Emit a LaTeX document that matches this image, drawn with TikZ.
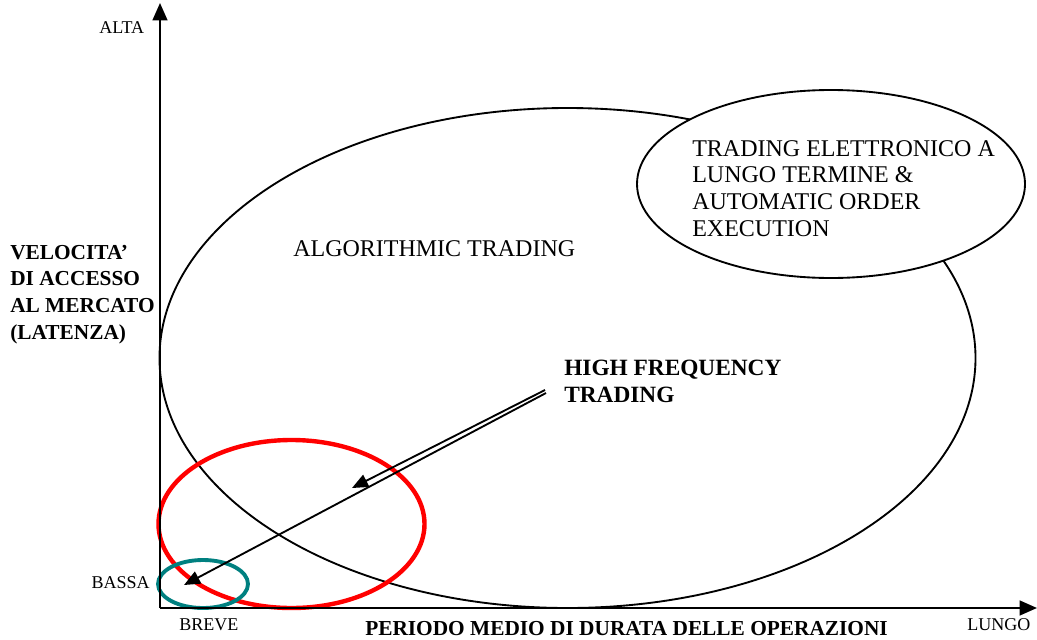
\documentclass[tikz,border=0pt]{standalone}
\usepackage{fontspec}
\setmainfont{Liberation Serif}
\usetikzlibrary{shapes.geometric,arrows.meta}
\definecolor{tealring}{RGB}{0,128,128}
\definecolor{redring}{RGB}{255,0,0}
\tikzset{
  ring/.style={ellipse, inner sep=0pt, draw},
  axis/.style={line width=1.7pt, -{Triangle[length=13pt,width=11pt]}},
  hftarrow/.style={line width=1.4pt, -{Triangle[length=12pt,width=10pt]}},
  lbl/.style={inner sep=0pt, font=\fontsize{13.5}{16}\selectfont},
  big/.style={inner sep=0pt, align=left, font=\fontsize{18}{20}\selectfont},
  bigbold/.style={inner sep=0pt, align=left, font=\fontsize{16}{19.9}\selectfont\bfseries},
}
\begin{document}
\begin{tikzpicture}[x=0.75pt,y=-0.75pt]
\useasboundingbox (0,0) rectangle (1037,639);
% ellipses
\node[ring, line width=1.4pt, minimum width=612pt, minimum height=375pt] (algo) at (567.5,358) {};
\node[ring, line width=1.4pt, fill=white, minimum width=291pt, minimum height=141pt] (elet) at (831,184) {};
\node[ring, draw=redring, line width=3.3pt, minimum width=199.5pt, minimum height=126pt] (hft) at (291.5,524) {};
\node[ring, draw=tealring, line width=2.9pt, minimum width=67.5pt, minimum height=36pt] (low) at (203,584) {};
% axes
\coordinate (origin) at (160,608);
\coordinate (ytop) at (160,3);
\coordinate (xend) at (1037,608);
\draw[axis] (origin) -- (ytop);
\draw[axis] (origin) -- (xend);
% arrows
\coordinate (s1) at (545,390);
\coordinate (s2) at (546,393);
\coordinate (e1) at (352,488);
\coordinate (e2) at (184,585);
\draw[hftarrow] (s1) -- (e1);
\draw[hftarrow] (s2) -- (e2);
% labels
\node[lbl, anchor=base west] (alta) at (99,33) {ALTA};
\node[lbl, anchor=base east] (bassa) at (150,588) {BASSA};
\node[lbl, anchor=base west] (breve) at (179,630) {BREVE};
\node[lbl, anchor=base west] (lungo) at (967,630) {LUNGO};
\node[bigbold, anchor=base west] (xlab) at (365,635) {PERIODO MEDIO DI DURATA DELLE OPERAZIONI};
\node[bigbold, anchor=north west] (ylab) at (10,245) {VELOCITA'\\DI ACCESSO\\AL MERCATO\\(LATENZA)};
\node[big, anchor=base west] (algotxt) at (293,256) {ALGORITHMIC TRADING};
\node[inner sep=0pt, align=left, anchor=north west, font=\fontsize{17.5}{20}\selectfont\bfseries] (hfttxt) at (564,360) {HIGH FREQUENCY\\TRADING};
\node[big, anchor=north west] (elettxt) at (692,140) {TRADING ELETTRONICO A\\LUNGO TERMINE \&\\AUTOMATIC ORDER\\EXECUTION};
\end{tikzpicture}
\end{document}
